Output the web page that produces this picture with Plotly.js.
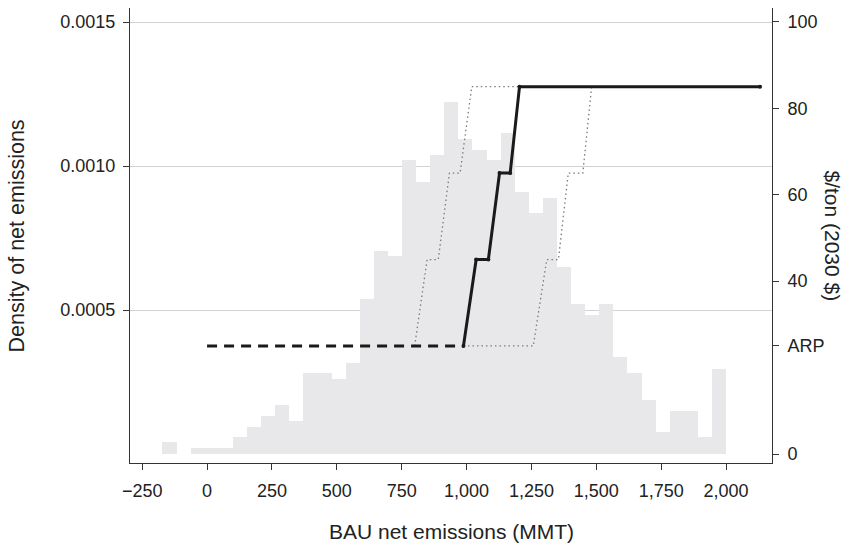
<!DOCTYPE html>
<html>
<head>
<meta charset="utf-8">
<script src="https://cdn.plot.ly/plotly-3.0.1.min.js"></script>
<style>
html,body{margin:0;padding:0;background:#fff;}
#chart{width:845px;height:544px;}
</style>
</head>
<body>
<div id="chart"></div>
<script>
// Histogram of BAU net emissions (density), 40 bins of width ~54.3 MMT
var binCenters = [-144.9, -90.6, -36.3, 18.1, 72.4, 126.7, 181.0, 235.3, 289.6, 343.9,
  398.2, 452.5, 506.8, 561.1, 615.4, 669.7, 724.0, 778.3, 832.6, 886.9,
  941.2, 995.5, 1049.8, 1104.1, 1158.4, 1212.7, 1267.0, 1321.3, 1375.6, 1429.9,
  1484.2, 1538.5, 1592.8, 1647.1, 1701.4, 1755.7, 1810.0, 1864.3, 1918.6, 1972.9];
var binWidth = 54.3;
var density = [0.000040, 0.000000, 0.000022, 0.000022, 0.000022, 0.000058, 0.000095, 0.000132, 0.000170, 0.000115,
  0.000281, 0.000281, 0.000262, 0.000317, 0.000538, 0.000706, 0.000688, 0.001020, 0.000946, 0.001038,
  0.001223, 0.001093, 0.001056, 0.001020, 0.001113, 0.000908, 0.000836, 0.000890, 0.000650, 0.000520,
  0.000483, 0.000520, 0.000338, 0.000280, 0.000188, 0.000078, 0.000150, 0.000150, 0.000060, 0.000294];

// ARP price level on right axis
var ARP = 25;
// Dashed ARP segment
var arpX = [0, 988];
var arpY = [ARP, ARP];
// Central price schedule (solid)
var midX = [988, 1037, 1084, 1127, 1168, 1204, 2131];
var midY = [25, 45, 45, 65, 65, 85, 85];
// Lower band (dotted, left)
var lowX = [800, 848, 891, 934, 975, 1020, 1204];
var lowY = [25, 45, 45, 65, 65, 85, 85];
// Upper band (dotted, right)
var highX = [988, 1257, 1309, 1354, 1392, 1448, 1482];
var highY = [25, 25, 45, 45, 65, 65, 85];

var xTicks = [-250, 0, 250, 500, 750, 1000, 1250, 1500, 1750, 2000];
var xTickText = ['\u2212250', '0', '250', '500', '750', '1,000', '1,250', '1,500', '1,750', '2,000'];
var yTicks = [0.0005, 0.0010, 0.0015];
var yTickText = ['0.0005', '0.0010', '0.0015'];
var y2Ticks = [0, 25, 40, 60, 80, 100];
var y2TickText = ['0', 'ARP', '40', '60', '80', '100'];

var FONT = 'Liberation Sans, Arial, Helvetica, sans-serif';
var TXT = '#222';

var traces = [
  {type: 'bar', x: binCenters, y: density, width: binWidth,
   marker: {color: '#e8e8ea', line: {width: 0}}, yaxis: 'y', hoverinfo: 'skip'},
  {type: 'scatter', mode: 'lines', x: lowX, y: lowY, yaxis: 'y2',
   line: {color: '#7a7a7a', width: 1.3, dash: '1.5px,3px'}},
  {type: 'scatter', mode: 'lines', x: highX, y: highY, yaxis: 'y2',
   line: {color: '#7a7a7a', width: 1.3, dash: '1.5px,3px'}},
  {type: 'scatter', mode: 'lines', x: arpX, y: arpY, yaxis: 'y2',
   line: {color: '#1a1a1a', width: 3, dash: '10px,7px'}},
  {type: 'scatter', mode: 'lines+markers', x: midX, y: midY, yaxis: 'y2',
   line: {color: '#1a1a1a', width: 3}, marker: {color: '#1a1a1a', size: 4}}
];

var layout = {
  width: 845, height: 544,
  margin: {l: 130, r: 73, t: 8, b: 81, pad: 0},
  paper_bgcolor: '#fff', plot_bgcolor: '#fff',
  showlegend: false, bargap: 0,
  font: {family: FONT, size: 18, color: TXT},
  xaxis: {
    range: [-297, 2177], tickvals: xTicks, ticktext: xTickText,
    showgrid: false, zeroline: false, showline: true, linecolor: '#333', linewidth: 1,
    ticks: 'outside', ticklen: 6, tickcolor: '#333', ticklabelstandoff: 5,
    tickfont: {family: FONT, size: 18, color: TXT}
  },
  yaxis: {
    range: [-0.00003125, 0.0015486], tickvals: yTicks, ticktext: yTickText,
    showgrid: true, gridcolor: '#d2d2d2', gridwidth: 1, zeroline: false,
    showline: true, linecolor: '#333', linewidth: 1,
    ticks: 'outside', ticklen: 6, tickcolor: '#333', ticklabelstandoff: 4,
    tickfont: {family: FONT, size: 18, color: TXT}
  },
  yaxis2: {
    overlaying: 'y', side: 'right',
    range: [-2.08, 103.2], tickvals: y2Ticks, ticktext: y2TickText,
    showgrid: false, zeroline: false, showline: true, linecolor: '#333', linewidth: 1,
    ticks: 'outside', ticklen: 6, tickcolor: '#333', ticklabelstandoff: 5,
    tickfont: {family: FONT, size: 18, color: TXT}
  },
  annotations: [
    {text: 'Density of net emissions', xref: 'paper', yref: 'paper',
     x: -0.176, y: 0.498, xanchor: 'center', yanchor: 'middle', textangle: -90,
     showarrow: false, font: {family: FONT, size: 21.5, color: TXT}},
    {text: '$/ton (2030 $)', xref: 'paper', yref: 'paper',
     x: 1.0935, y: 0.5, xanchor: 'center', yanchor: 'middle', textangle: 90,
     showarrow: false, font: {family: FONT, size: 21, color: TXT}},
    {text: 'BAU net emissions (MMT)', xref: 'paper', yref: 'paper',
     x: 0.5, y: -0.1516, xanchor: 'center', yanchor: 'middle',
     showarrow: false, font: {family: FONT, size: 21, color: TXT}}
  ]
};

Plotly.newPlot('chart', traces, layout, {displayModeBar: false, staticPlot: true});
</script>
</body>
</html>
